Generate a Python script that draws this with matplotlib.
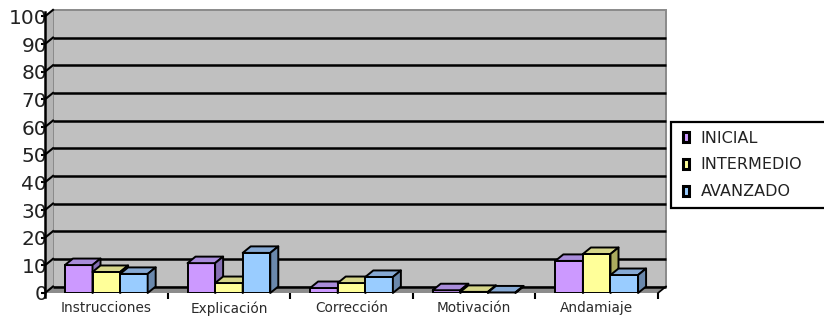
import matplotlib
matplotlib.use("Agg")
import matplotlib.pyplot as plt
from matplotlib.patches import Polygon, Rectangle, Patch

categories = ["Instrucciones", "Explicación", "Corrección", "Motivación", "Andamiaje"]
series_names = ["INICIAL", "INTERMEDIO", "AVANZADO"]
inicial = [10.1, 10.8, 1.8, 1.0, 11.6]
intermedio = [7.6, 3.6, 3.6, 0.4, 14.1]
avanzado = [6.9, 14.5, 5.8, 0.2, 6.5]
y_ticks = [0, 10, 20, 30, 40, 50, 60, 70, 80, 90, 100]

front_colors = ["#CC99FF", "#FFFF99", "#99CCFF"]
top_colors = ["#A98CDB", "#D6D68A", "#86A9D4"]
side_colors = ["#8670B4", "#ABAB5E", "#6A88AC"]

W, H, DPI = 824, 324, 100
fig = plt.figure(figsize=(W / DPI, H / DPI), dpi=DPI)
fig.patch.set_facecolor("white")

# plot region in pixels (front plane)
x_left, x_right = 45, 658
y_zero, y_top = 293, 16.4
ax = fig.add_axes([x_left / W, (H - y_zero) / H, (x_right - x_left) / W, (y_zero - y_top) / H])
ax.set_xlim(0, len(categories))
ax.set_ylim(0, 100)
ax.patch.set_visible(False)
ax.set_axisbelow(True)

# depth offsets in data units (about 8 px right, 6.5 px up)
ddx = 8 / ((x_right - x_left) / len(categories))
ddy = 6.5 / ((y_zero - y_top) / 100)
ncat = len(categories)

# back wall
ax.add_patch(Polygon([(ddx, ddy), (ncat + ddx, ddy), (ncat + ddx, 100 + ddy), (ddx, 100 + ddy)],
                     closed=True, facecolor="#C0C0C0", edgecolor="#8a8a8a", lw=1.4,
                     zorder=1, clip_on=False))
# left side wall
ax.add_patch(Polygon([(0, 0), (ddx, ddy), (ddx, 100 + ddy), (0, 100)],
                     closed=True, facecolor="#B4B4B4", edgecolor="none",
                     zorder=1.1, clip_on=False))
# floor
ax.add_patch(Polygon([(0, 0), (ncat, 0), (ncat + ddx, ddy), (ddx, ddy)],
                     closed=True, facecolor="#8C8C8C", edgecolor="none",
                     zorder=1.1, clip_on=False))
ax.plot([ncat, ncat + ddx], [0, ddy], color="black", lw=1.2, zorder=1.2, clip_on=False)

# gridlines on back and side wall (top edge of the wall stays grey)
for v in y_ticks:
    if v < 100:
        ax.plot([ddx, ncat + ddx], [v + ddy, v + ddy], color="black", lw=1.8,
                zorder=1.3, clip_on=False, solid_capstyle="butt")
    ax.plot([0, ddx], [v, v + ddy], color="black", lw=1.5, zorder=1.3, clip_on=False)

# 3D-looking clustered columns
values = [inicial, intermedio, avanzado]
bw = 0.225
offsets = [-bw, 0.0, bw]
k = 0
for ci in range(ncat):
    for si in range(3):
        h = values[si][ci]
        xc = ci + 0.5 + offsets[si]
        z = 3 + k * 0.01
        ax.bar([xc], [h], width=bw, color=front_colors[si], edgecolor="black",
               linewidth=1.4, zorder=z)
        xl, xr = xc - bw / 2, xc + bw / 2
        ax.add_patch(Polygon([(xl, h), (xr, h), (xr + ddx, h + ddy), (xl + ddx, h + ddy)],
                             closed=True, facecolor=top_colors[si], edgecolor="black",
                             lw=1.4, zorder=z + 0.001, clip_on=False, joinstyle="round"))
        ax.add_patch(Polygon([(xr, 0), (xr + ddx, ddy), (xr + ddx, h + ddy), (xr, h)],
                             closed=True, facecolor=side_colors[si], edgecolor="black",
                             lw=1.4, zorder=z + 0.002, clip_on=False, joinstyle="round"))
        k += 1

# axes styling
for s in ["top", "right", "bottom"]:
    ax.spines[s].set_visible(False)
ax.spines["left"].set_color("black")
ax.spines["left"].set_linewidth(1.8)
ax.spines["left"].set_zorder(2)
ax.spines["left"].set_bounds(-1.5, 101.5)

ax.set_yticks(y_ticks)
ax.set_yticklabels([str(v) for v in y_ticks], fontsize=14.5, color="#222222",
                   family="DejaVu Sans")
ax.tick_params(axis="y", direction="out", length=3, width=1.5, pad=-4.5)

ax.set_xticks([i + 0.5 for i in range(ncat)])
ax.set_xticklabels(categories, fontsize=9.8, color="#2a2a2a")
ax.tick_params(axis="x", which="major", length=0, pad=6)
ax.set_xticks(list(range(1, ncat + 1)), minor=True)
ax.tick_params(axis="x", which="minor", length=4, width=1.5, color="black")

# legend
fig.add_artist(Rectangle((671 / W, 1 - 208 / H), (W - 671 + 5) / W, 86 / H,
                         transform=fig.transFigure, facecolor="white",
                         edgecolor="black", lw=1.6, clip_on=False))
handles = [Patch(facecolor=front_colors[i], edgecolor="black", lw=2.2) for i in range(3)]
fig.legend(handles, series_names, loc="center left",
           bbox_to_anchor=(683 / W, 1 - 165 / H), frameon=False,
           fontsize=11.5, handlelength=0.4, handleheight=0.6,
           handletextpad=0.7, labelspacing=0.75, borderpad=0, borderaxespad=0,
           labelcolor="#222222")

fig.savefig("out.png", dpi=DPI)
